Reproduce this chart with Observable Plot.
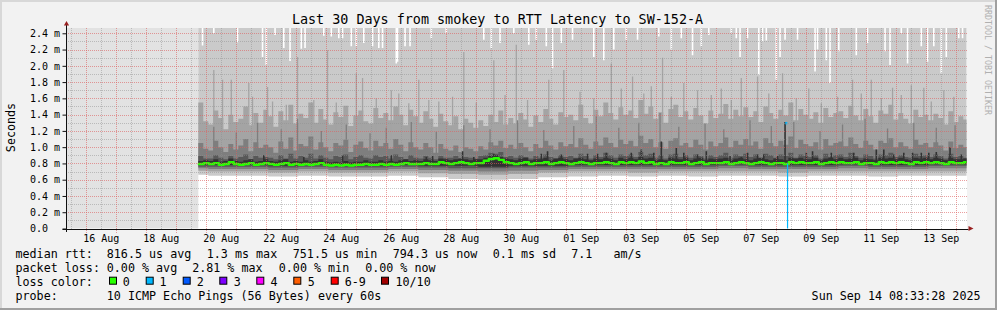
<!DOCTYPE html>
<html><head><meta charset="utf-8">
<script src="https://cdn.jsdelivr.net/npm/d3@7"></script>
<script src="https://cdn.jsdelivr.net/npm/@observablehq/plot@0.6"></script>
<style>
html,body{margin:0;padding:0;background:#f2f2f2;overflow:hidden;}
#chart svg{display:block;}
</style>
</head><body><div id="chart"></div>
<script>
// ---------- DATA ----------
const title = "Last 30 Days from smokey to RTT Latency to SW-152-A";
const yLabel = "Seconds";
// columns every 4 h starting Aug 19 18:00
const median = [
0.80,0.81,
0.80,0.81,0.79,0.80,0.82,0.80, 0.79,0.80,0.81,0.79,0.80,0.81, 0.80,0.79,0.80,0.81,0.79,0.80,
0.79,0.80,0.79,0.80,0.81,0.79, 0.78,0.79,0.78,0.79,0.78,0.79, 0.79,0.80,0.79,0.79,0.80,0.79,
0.80,0.79,0.80,0.81,0.80,0.80, 0.80,0.81,0.80,0.80,0.82,0.81, 0.80,0.81,0.82,0.81,0.80,0.81,
0.81,0.84,0.86,0.87,0.85,0.82, 0.81,0.80,0.81,0.82,0.80,0.81, 0.81,0.82,0.80,0.81,0.82,0.81,
0.80,0.81,0.82,0.81,0.80,0.81, 0.81,0.82,0.81,0.80,0.82,0.81, 0.82,0.81,0.83,0.81,0.82,0.80,
0.81,0.80,0.82,0.81,0.81,0.82, 0.80,0.81,0.82,0.80,0.81,0.81, 0.81,0.82,0.80,0.81,0.82,0.81,
0.80,0.81,0.82,0.81,0.80,0.81, 0.81,0.80,0.82,0.81,0.82,0.81, 0.81,0.82,0.80,0.81,0.82,0.81,
0.82,0.81,0.81,0.82,0.80,0.81, 0.81,0.80,0.82,0.81,0.82,0.81, 0.82,0.81,0.80,0.82,0.81,0.82,
0.81,0.82,0.81,0.80,0.82,0.81,
0.81,0.82];
const top2 = [
1.55,1.32,
1.28,1.45,1.36,1.22,1.40,1.31, 1.35,1.50,1.27,1.42,1.30,1.46, 1.38,1.25,1.44,1.33,1.52,1.29,
1.41,1.36,1.55,1.30,1.47,1.34, 1.28,1.43,1.37,1.51,1.26,1.39, 1.45,1.32,1.29,1.48,1.36,1.42,
1.33,1.50,1.40,1.27,1.46,1.38, 1.30,1.44,1.35,1.25,1.41,1.32, 1.27,1.38,1.22,1.35,1.30,1.24,
1.33,1.26,1.40,1.31,1.45,1.28, 1.36,1.29,1.42,1.34,1.25,1.39, 1.31,1.47,1.35,1.28,1.43,1.37,
1.40,1.33,1.52,1.36,1.29,1.46, 1.38,1.55,1.42,1.34,1.49,1.40, 1.45,1.36,1.58,1.41,1.50,1.35,
1.43,1.30,1.47,1.52,1.37,1.44, 1.34,1.48,1.39,1.29,1.45,1.36, 1.41,1.53,1.35,1.46,1.38,1.49,
1.37,1.44,1.31,1.50,1.42,1.35, 1.46,1.39,1.55,1.33,1.47,1.40, 1.35,1.43,1.30,1.48,1.37,1.42,
1.44,1.36,1.51,1.39,1.33,1.47, 1.38,1.30,1.45,1.41,1.52,1.34, 1.42,1.35,1.29,1.46,1.37,1.40,
1.33,1.41,1.36,1.28,1.44,1.31,
1.38,1.34];
const top3 = [
1.05,0.98,
0.96,1.08,1.00,0.94,1.04,0.97, 1.02,1.10,0.95,1.06,0.99,1.03, 1.00,0.93,1.07,0.98,1.12,0.96,
1.04,1.01,1.13,0.97,1.06,1.00, 0.95,1.05,1.02,1.09,0.94,1.03, 1.07,0.99,0.96,1.08,1.01,1.05,
0.98,1.10,1.03,0.95,1.06,1.00, 0.97,1.05,1.00,0.93,1.04,0.98, 0.96,1.02,0.94,1.00,0.98,0.95,
1.01,0.97,1.06,1.02,1.08,0.99, 1.03,0.98,1.05,1.00,0.95,1.04, 0.99,1.08,1.02,0.97,1.06,1.01,
1.04,1.00,1.11,1.03,0.98,1.07, 1.02,1.12,1.05,1.00,1.09,1.04, 1.08,1.01,1.14,1.05,1.10,1.00,
1.06,0.98,1.08,1.11,1.02,1.05, 1.00,1.09,1.03,0.97,1.07,1.01, 1.05,1.12,1.00,1.08,1.03,1.10,
1.02,1.07,0.98,1.11,1.05,1.01, 1.08,1.03,1.13,0.99,1.09,1.04, 1.01,1.06,0.97,1.10,1.02,1.05,
1.07,1.01,1.12,1.04,0.99,1.08, 1.03,0.97,1.08,1.05,1.11,1.00, 1.06,1.01,0.98,1.09,1.03,1.05,
1.00,1.06,1.02,0.96,1.07,0.99,
1.03,1.00];
const top4 = [
0.89,0.86,
0.86,0.90,0.87,0.85,0.89,0.86, 0.88,0.91,0.85,0.89,0.87,0.88, 0.87,0.85,0.90,0.86,0.92,0.86,
0.89,0.87,0.92,0.86,0.90,0.87, 0.85,0.89,0.88,0.91,0.85,0.88, 0.90,0.87,0.86,0.90,0.88,0.89,
0.86,0.91,0.88,0.85,0.90,0.87, 0.86,0.89,0.87,0.85,0.89,0.87, 0.87,0.89,0.86,0.88,0.87,0.86,
0.89,0.90,0.93,0.92,0.94,0.88, 0.89,0.87,0.90,0.88,0.86,0.89, 0.87,0.91,0.88,0.86,0.90,0.88,
0.89,0.87,0.92,0.89,0.86,0.90, 0.88,0.93,0.90,0.87,0.91,0.89, 0.91,0.88,0.94,0.90,0.92,0.87,
0.90,0.86,0.91,0.92,0.88,0.90, 0.87,0.91,0.89,0.86,0.90,0.88, 0.90,0.93,0.87,0.91,0.89,0.92,
0.88,0.91,0.86,0.92,0.90,0.87, 0.91,0.89,0.93,0.87,0.91,0.89, 0.88,0.90,0.86,0.92,0.88,0.90,
0.91,0.88,0.93,0.89,0.87,0.91, 0.89,0.86,0.91,0.90,0.93,0.88, 0.90,0.88,0.87,0.92,0.89,0.90,
0.88,0.91,0.89,0.86,0.92,0.88,
0.89,0.87];
const top5 = [
0.83,0.84,
0.83,0.85,0.82,0.83,0.86,0.83, 0.82,0.84,0.85,0.82,0.83,0.85, 0.83,0.82,0.84,0.85,0.82,0.83,
0.82,0.84,0.82,0.83,0.85,0.82, 0.81,0.82,0.81,0.83,0.81,0.82, 0.82,0.84,0.82,0.82,0.84,0.82,
0.83,0.82,0.84,0.85,0.83,0.84, 0.83,0.85,0.84,0.83,0.86,0.85, 0.84,0.85,0.86,0.85,0.84,0.85,
0.85,0.87,0.89,0.90,0.88,0.86, 0.85,0.84,0.86,0.87,0.84,0.85, 0.85,0.87,0.84,0.86,0.87,0.85,
0.84,0.86,0.87,0.85,0.84,0.86, 0.85,0.87,0.86,0.84,0.87,0.85, 0.87,0.85,0.88,0.86,0.87,0.84,
0.85,0.84,0.87,0.86,0.85,0.87, 0.84,0.86,0.87,0.84,0.86,0.85, 0.86,0.87,0.84,0.86,0.87,0.85,
0.84,0.86,0.87,0.85,0.84,0.86, 0.85,0.84,0.87,0.86,0.87,0.85, 0.85,0.87,0.84,0.86,0.87,0.85,
0.87,0.85,0.86,0.87,0.84,0.86, 0.85,0.84,0.87,0.86,0.87,0.85, 0.87,0.85,0.84,0.87,0.86,0.87,
0.85,0.87,0.86,0.84,0.87,0.85,
0.85,0.86];
// lower smoke edges, one value per day (Aug 19 .. Sep 14)
const bottom1 = [0.66,0.65,0.65,0.64,0.65,0.64,0.64,0.65,0.63,0.61,0.60,0.61,0.63,0.64,0.65,0.64,0.65,0.64,0.65,0.65,0.64,0.65,0.65,0.64,0.65,0.65,0.65];
const bottom2 = [0.71,0.70,0.70,0.69,0.70,0.69,0.69,0.70,0.68,0.67,0.66,0.67,0.69,0.70,0.70,0.69,0.70,0.70,0.70,0.70,0.69,0.70,0.70,0.70,0.70,0.70,0.70];
const bottom3 = [0.74,0.73,0.73,0.72,0.73,0.72,0.72,0.73,0.72,0.71,0.70,0.71,0.72,0.73,0.73,0.73,0.73,0.73,0.74,0.73,0.73,0.73,0.74,0.73,0.73,0.74,0.74];
const bottom4 = [0.76,0.76,0.76,0.75,0.76,0.75,0.75,0.76,0.75,0.74,0.74,0.75,0.75,0.76,0.76,0.76,0.76,0.76,0.77,0.76,0.76,0.76,0.77,0.76,0.76,0.77,0.77];
const bottom5 = [0.78,0.78,0.78,0.77,0.78,0.77,0.77,0.78,0.77,0.77,0.76,0.77,0.77,0.78,0.78,0.78,0.78,0.78,0.79,0.78,0.78,0.78,0.79,0.78,0.78,0.79,0.79];
// hours after Aug 19 18:00 where the max ping stayed below the top: [hour, max]
const maxDips = [[3,2.25],[12,2.40],[31,2.29],[51,2.11],[54,2.01],[61,2.38],[68,2.22],[73,2.06],[82,2.21],[85,2.22],
[100,2.37],[106,2.36],[112,2.34],[115,2.34],[122,2.24],[126,2.24],[132,2.28],[139,2.24],[144,2.22],[147,2.22],
[158,2.03],[159,2.05],[165,2.24],[169,2.24],[186,2.34],[198,2.40],[228,2.32],[234,2.22],[241,2.28],[252,2.40],
[264,2.26],[270,2.32],[278,2.24],[283,1.97],[290,2.28],[299,2.32],[316,2.11],[324,2.07],[332,2.20],[342,2.32],
[351,2.32],[368,2.36],[378,2.20],[386,2.34],[395,2.13],[402,2.24],[408,2.38],[426,2.40],[430,2.34],[433,2.11],
[439,2.34],[448,1.89],[451,2.30],[454,2.31],[462,1.83],[465,2.11],[469,2.32],[479,2.32],[493,1.93],[495,2.20],
[502,2.07],[505,1.79],[512,2.18],[526,2.13],[535,2.28],[549,2.18],[553,2.01],[562,2.40],[567,2.03],[578,2.24],
[583,2.05],[588,2.24],[594,1.91],[598,2.11],[608,2.34],[611,2.34]];
// thin tall spikes of the 2nd smoke band: [hour, value]
const band2Spikes = [[12,1.95],[19,1.83],[26,1.83],[40,1.79],[43,1.62],[55,1.74],[59,1.56],[70,1.52],[79,2.11],[92,1.58],
[103,2.19],[110,1.55],[126,1.91],[131,1.85],[142,1.60],[154,1.70],[160,1.66],[168,1.54],[176,1.83],[184,1.58],
[192,1.56],[203,1.62],[212,2.17],[222,1.55],[236,2.07],[245,1.64],[254,2.26],[263,1.58],[280,1.83],[292,1.95],
[305,1.68],[316,1.60],[330,2.03],[338,1.72],[347,1.87],[356,1.66],[362,1.75],[371,2.10],[378,1.62],[388,1.79],
[399,1.70],[410,1.64],[418,1.72],[426,1.58],[434,1.85],[447,1.87],[456,1.66],[467,1.91],[478,1.60],[488,1.72],
[498,1.54],[511,1.62],[523,1.83],[530,1.66],[538,1.83],[546,1.60],[555,1.73],[562,1.64],[570,1.76],[580,1.73],
[586,1.56],[596,1.70],[604,1.62]];
// spikes of the 3rd smoke band
const band3Spikes = [[12,1.25],[30,1.18],[47,1.30],[66,1.22],[79,1.35],[98,1.20],[118,1.28],[137,1.17],[150,1.24],[170,1.31],
[190,1.19],[212,1.27],[233,1.22],[255,1.33],[276,1.21],[300,1.26],[318,1.38],[336,1.24],[352,1.30],[369,1.42],
[384,1.25],[405,1.29],[420,1.22],[441,1.33],[458,1.26],[476,1.31],[497,1.20],[515,1.28],[533,1.35],[551,1.23],
[572,1.30],[590,1.24],[605,1.27]];
// dark spikes of the innermost band
const band5Spikes = [[52,0.90],[84,0.88],[115,0.90],[154,0.90],[182,0.88],[187,0.89],[211,0.95],[220,0.88],[236,0.92],
[274,0.92],[279,0.95],[290,0.91],[311,0.92],[319,0.92],[326,0.93],[346,0.93],[354,0.97],[364,0.93],[370,1.07],
[382,0.99],[388,0.93],[399,0.91],[406,0.95],[425,0.89],[434,0.88],[439,0.93],[447,0.91],[452,0.91],[463,0.89],
[469,1.31],[486,0.93],[491,0.95],[506,0.93],[524,0.93],[542,0.97],[548,0.97],[556,0.91],[564,0.93],[571,0.93],
[578,0.93],[584,0.93],[590,0.94],[601,1.00],[610,0.91]];
const lossEvents = [{hour: 470, median: 1.30, floor: 0.80, loss: 1}];
const yTicks = [0,0.2,0.4,0.6,0.8,1.0,1.2,1.4,1.6,1.8,2.0,2.2,2.4];
const yMinorTicks = [0.1,0.3,0.5,0.7,0.9,1.1,1.3,1.5,1.7,1.9,2.1,2.3];
const xTickDays = ["2025-08-16","2025-08-18","2025-08-20","2025-08-22","2025-08-24","2025-08-26","2025-08-28","2025-08-30",
"2025-09-01","2025-09-03","2025-09-05","2025-09-07","2025-09-09","2025-09-11","2025-09-13"];
const rttLabel = "median rtt:";
const rttStats = ["816.5 us avg","1.3 ms max","751.5 us min","794.3 us now","0.1 ms sd","7.1","am/s"];
const lossLabel = "packet loss:";
const lossStats = ["0.00 % avg","2.81 % max","0.00 % min","0.00 % now"];
const colorLabel = "loss color:";
const lossNames = ["0","1","2","3","4","5","6-9","10/10"];
const lossColors = ["#26ff00","#00b8ff","#0059ff","#7e00ff","#ff00ff","#ff5e00","#ff0000","#a10000"];
const probeLabel = "probe:";
const probeText = "10 ICMP Echo Pings (56 Bytes) every 60s";
const stamp = "Sun Sep 14 08:33:28 2025";
const credit = "RRDTOOL / TOBI OETIKER";

// ---------- BUILD ----------
const mono = "DejaVu Sans Mono";
const H = 3600e3;
const dataStart = Date.UTC(2025, 7, 19, 18);
const xDomain = [new Date(Date.UTC(2025,7,15,8,33,28)), new Date(Date.UTC(2025,8,14,8,33,28))];
const chartTop = 2.465;
const at = h => new Date(dataStart + h * H);
const smoke = ["#cacaca","#a4a4a4","#7e7e7e","#585858","#323232"];

const cols = median.map((m, i) => {
  const d = Math.min(bottom1.length - 1, Math.floor((18 + 4 * i) / 24));
  return {t: at(4 * i), median: m, top2: top2[i], top3: top3[i], top4: top4[i], top5: top5[i],
    b1: bottom1[d], b2: bottom2[d], b3: bottom3[d], b4: bottom4[d], b5: bottom5[d]};
});
cols.push({...cols[cols.length - 1], t: at(4 * cols.length)});

const xMajor = d3.utcDay.range(xDomain[0], xDomain[1]);
const xMinor = d3.utcHour.range(xDomain[0], xDomain[1]).filter(d => d.getUTCHours() === 12);
const xLabelDates = xTickDays.map(s => new Date(s + "T12:00:00Z"));
const fmtY = d => d === 0 ? "0.0\u00a0\u00a0" : d.toFixed(1) + " m";
const step = "step-after";

const plot = Plot.plot({
  width: 997, height: 310,
  marginLeft: 66.5, marginRight: 30.5, marginTop: 28, marginBottom: 81.5,
  style: {background: "#f2f2f2", fontFamily: mono, fontSize: "10px", color: "#000"},
  x: {type: "utc", domain: xDomain},
  y: {domain: [0, chartTop]},
  marks: [
    Plot.frame({fill: "white", stroke: "none"}),
    Plot.rect([{a: xDomain[0], b: at(0)}], {x1: "a", x2: "b", y1: 0, y2: chartTop, fill: "#e2e2e2"}),
    Plot.areaY(cols, {x: "t", y1: "b1", y2: chartTop, curve: step, fill: smoke[0], clip: true}),
    Plot.ruleX(maxDips, {x: d => at(d[0]), y1: d => d[1], y2: chartTop, stroke: "white", strokeWidth: 1.6, clip: true}),
    Plot.areaY(cols, {x: "t", y1: "b2", y2: "top2", curve: step, fill: smoke[1], clip: true}),
    Plot.ruleX(band2Spikes, {x: d => at(d[0]), y1: 0.95, y2: d => d[1], stroke: smoke[1], strokeWidth: 1.3, clip: true}),
    Plot.areaY(cols, {x: "t", y1: "b3", y2: "top3", curve: step, fill: smoke[2], clip: true}),
    Plot.ruleX(band3Spikes, {x: d => at(d[0]), y1: 0.9, y2: d => d[1], stroke: smoke[2], strokeWidth: 1.3, clip: true}),
    Plot.areaY(cols, {x: "t", y1: "b4", y2: "top4", curve: step, fill: smoke[3], clip: true}),
    Plot.areaY(cols, {x: "t", y1: "b5", y2: "top5", curve: step, fill: smoke[4], clip: true}),
    Plot.ruleX(band5Spikes, {x: d => at(d[0]), y1: 0.82, y2: d => d[1], stroke: smoke[4], strokeWidth: 1.6, clip: true}),
    Plot.lineY(cols, {x: "t", y: "median", curve: step, stroke: lossColors[0], strokeWidth: 2.4, clip: true}),
    Plot.ruleX(lossEvents, {x: d => at(d.hour + 1), y1: 0, y2: d => d.floor, stroke: d => lossColors[d.loss], strokeWidth: 1.2}),
    Plot.ruleX(lossEvents, {x: d => at(d.hour), y1: d => d.median - 0.02, y2: d => d.median + 0.01, stroke: d => lossColors[d.loss], strokeWidth: 2}),
    Plot.axisY(yTicks, {anchor: "left", tickSize: 4, tickPadding: 3, tickFormat: fmtY, stroke: "#101010", label: null, fontSize: 10}),
    Plot.axisX(xLabelDates, {anchor: "bottom", tickSize: 0, tickPadding: 6, tickFormat: d3.utcFormat("%d %b"), label: null, fontSize: 10})
  ]
});
document.getElementById("chart").appendChild(plot);

// ---------- grid (pixel-aligned, from the plot's own scales), axis lines, arrows, texts ----------
const svg = d3.select(plot);
const xs = plot.scale("x"), ys = plot.scale("y");
const xL = xs.apply(xDomain[0]), xR = xs.apply(xDomain[1]);
const y0 = ys.apply(0), yT = ys.apply(chartTop);
const grid = svg.append("g").attr("fill", "none");
const gx0 = Math.round(xL), gx1 = Math.round(xR) + 1, gy0 = Math.round(y0), gy1 = Math.round(yT);
// dotted horizontal lines as 1px rects repeated every 2px via a pattern
const defs = svg.append("defs");
const mkPat = (id, c, o, horiz) => {
  const p = defs.append("pattern").attr("id", id).attr("patternUnits", "userSpaceOnUse")
    .attr("width", horiz ? 2 : 1).attr("height", horiz ? 1 : 2);
  p.append("rect").attr("width", 1).attr("height", 1).attr("fill", c).attr("fill-opacity", o);
};
mkPat("gMinH", "#8f8f8f", 0.5, true); mkPat("gMajH", "#de5f5f", 0.6, true);
mkPat("gMinV", "#8f8f8f", 0.5, false); mkPat("gMajV", "#de5f5f", 0.6, false);
const hLine = (v, id) => { const p = Math.round(ys.apply(v));
  grid.append("rect").attr("x", gx0).attr("y", p).attr("width", gx1 - gx0).attr("height", 1).attr("fill", `url(#${id})`); };
const vLine = (d, id, ya, yb) => { const p = Math.round(xs.apply(d));
  grid.append("rect").attr("x", p).attr("y", ya).attr("width", 1).attr("height", yb - ya).attr("fill", `url(#${id})`); };
yMinorTicks.forEach(v => hLine(v, "gMinH"));
xMinor.forEach(d => vLine(d, "gMinV", gy1, gy0));
yTicks.slice(1).forEach(v => hLine(v, "gMajH"));
xMajor.forEach(d => vLine(d, "gMajV", gy1, gy0 + 4));

const g = svg.append("g");
g.append("line").attr("x1", xL).attr("x2", xL).attr("y1", y0 + 3.5).attr("y2", yT - 3).attr("stroke", "#101010");
g.append("line").attr("x1", xL - 4).attr("x2", xR + 2).attr("y1", Math.round(y0) + 0.5).attr("y2", Math.round(y0) + 0.5).attr("stroke", "#101010");
g.append("path").attr("d", `M${xL - 2.6},${yT - 2.6}L${xL + 2.6},${yT - 2.6}L${xL},${yT - 7}Z`).attr("fill", "#992020");
g.append("path").attr("d", `M${xR + 2},${y0 - 2.6}L${xR + 2},${y0 + 2.6}L${xR + 7},${y0}Z`).attr("fill", "#992020");

const txt = (s, x, y, size, anchor = "start", fill = "#000") =>
  g.append("text").attr("x", x).attr("y", y).attr("font-family", mono).attr("font-size", size)
   .attr("text-anchor", anchor).attr("fill", fill).style("white-space", "pre").text(s);

txt(title, 497.5, 24, 13.4, "middle");
g.append("text").attr("transform", "translate(15,127.5) rotate(-90)").attr("font-family", mono)
  .attr("font-size", 11.7).attr("text-anchor", "middle").text(yLabel);
g.append("text").attr("transform", "translate(985,5) rotate(90)").attr("font-family", mono)
  .attr("font-size", 8.3).attr("text-anchor", "start").attr("fill", "#b0b0b0").text(credit);

const LF = 11.7;
const rowY = [258.3, 272.3, 286.3, 300.3];
txt(rttLabel, 15.5, rowY[0], LF);
[106.8, 206.8, 292.8, 392.8, 492.8, 571.2, 613.5].forEach((x, i) => txt(rttStats[i], x, rowY[0], LF));
txt(lossLabel, 15.5, rowY[1], LF);
[106.8, 192.2, 278.8, 365.2].forEach((x, i) => txt(lossStats[i], x, rowY[1], LF));
txt(colorLabel, 15.5, rowY[2], LF);
const boxX = [109, 145.7, 182.7, 219.3, 256.3, 293.3, 330.7, 381];
const labX = [122.8, 159.6, 196.8, 233.8, 270.6, 307.8, 344.8, 395.5];
lossNames.forEach((n, i) => {
  g.append("rect").attr("x", boxX[i] + 0.5).attr("y", 277.2).attr("width", 7).attr("height", 7)
    .attr("fill", lossColors[i]).attr("stroke", "#000").attr("stroke-width", 1);
  txt(n, labX[i], rowY[2], LF);
});
txt(probeLabel, 15.5, rowY[3], LF);
txt(probeText, 106.8, rowY[3], LF);
txt(stamp, 980.5, rowY[3], LF, "end");

// 3-D border
g.append("rect").attr("x", 0).attr("y", 0).attr("width", 997).attr("height", 2).attr("fill", "#d8d8d8");
g.append("rect").attr("x", 0).attr("y", 0).attr("width", 2).attr("height", 310).attr("fill", "#d8d8d8");
g.append("rect").attr("x", 0).attr("y", 308).attr("width", 997).attr("height", 2).attr("fill", "#a0a0a0");
g.append("rect").attr("x", 995).attr("y", 0).attr("width", 2).attr("height", 310).attr("fill", "#a0a0a0");
</script></body></html>
